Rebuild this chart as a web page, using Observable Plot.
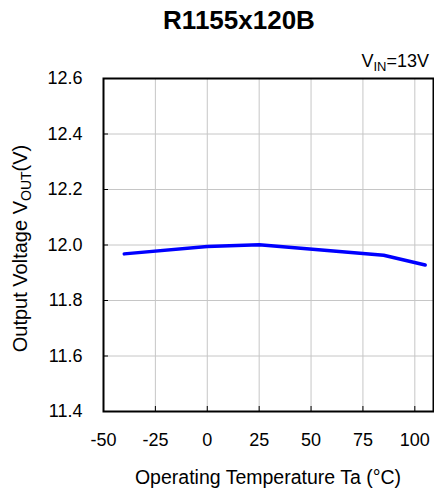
<!DOCTYPE html>
<html><head><meta charset="utf-8">
<script src="https://cdn.jsdelivr.net/npm/d3@7"></script>
<script src="https://cdn.jsdelivr.net/npm/@observablehq/plot@0.6"></script>
<style>
body{margin:0;background:#fff;font-family:"Liberation Sans",Arial,sans-serif;}
#title{height:40px;width:434px;position:relative;}
#title span{position:absolute;left:239px;top:7px;transform:translateX(-50%);font-weight:bold;font-size:26px;line-height:26px;white-space:nowrap;}
#chart svg{display:block;}
</style></head><body>
<div id="title"><span></span></div>
<div id="chart"></div>
<script>
const title = "R1155x120B";
const temps = [-40, 0, 25, 85, 105];
const vout = [11.968, 11.995, 12.001, 11.963, 11.928];
const xTicks = [-50, -25, 0, 25, 50, 75, 100];
const yTicks = [11.4, 11.6, 11.8, 12.0, 12.2, 12.4, 12.6];
const xLabel = "Operating Temperature Ta (°C)";
const yLabelMain = "Output Voltage V";
const yLabelSub = "OUT";
const yLabelEnd = "(V)";
const condMain = "V";
const condSub = "IN";
const condEnd = "=13V";

document.querySelector("#title span").textContent = title;

const data = temps.map((t, i) => ({t, v: vout[i]}));
const W = 434, H = 450, mT = 38, mB = 79, mL = 103, mR = 1;
const fw = W - mL - mR, fh = H - mT - mB;
const font = '"Liberation Sans", Arial, sans-serif';

const plot = Plot.plot({
  width: W, height: H, marginTop: mT, marginBottom: mB, marginLeft: mL, marginRight: mR,
  style: {fontFamily: font, fontSize: "18px", color: "#000", background: "#fff", overflow: "visible"},
  x: {domain: [-50, 109]},
  y: {domain: [11.4, 12.6]},
  marks: [
    Plot.gridX(xTicks, {stroke: "#c6c6c6", strokeOpacity: 1, strokeWidth: 1}),
    Plot.gridY(yTicks, {stroke: "#c6c6c6", strokeOpacity: 1, strokeWidth: 1}),
    Plot.tickX(xTicks, {x: d => d, insetTop: fh - 5, stroke: "#000", strokeWidth: 1}),
    Plot.tickY(yTicks, {y: d => d, insetRight: fw - 5, stroke: "#000", strokeWidth: 1}),
    Plot.axisX(xTicks, {tickSize: 0, tickPadding: 22, label: null, fontSize: 18, tickFormat: d => String(d)}),
    Plot.axisY(yTicks, {tickSize: 0, tickPadding: 21, label: null, fontSize: 18, tickFormat: d => d.toFixed(1)}),
    Plot.line(data, {x: "t", y: "v", stroke: "#0000ff", strokeWidth: 3.5}),
    Plot.frame({stroke: "#000", strokeWidth: 2})
  ]
});
document.getElementById("chart").appendChild(plot);

const svg = d3.select(plot);
svg.append("text")
  .attr("x", (mL + W - mR) / 2).attr("y", 444)
  .attr("text-anchor", "middle").attr("font-size", 19.5).attr("fill", "#000")
  .text(xLabel);

const yl = svg.append("text")
  .attr("transform", `translate(27,${mT + fh / 2 + 4}) rotate(-90)`)
  .attr("text-anchor", "middle").attr("font-size", 20).attr("fill", "#000");
yl.append("tspan").text(yLabelMain);
yl.append("tspan").attr("font-size", 14).attr("dy", 4).text(yLabelSub);
yl.append("tspan").attr("dy", -4).text(yLabelEnd);

const cl = svg.append("text")
  .attr("x", 429).attr("y", 27)
  .attr("text-anchor", "end").attr("font-size", 18).attr("fill", "#000");
cl.append("tspan").text(condMain);
cl.append("tspan").attr("font-size", 13).attr("dy", 4).text(condSub);
cl.append("tspan").attr("dy", -4).text(condEnd);
</script>
</body></html>
